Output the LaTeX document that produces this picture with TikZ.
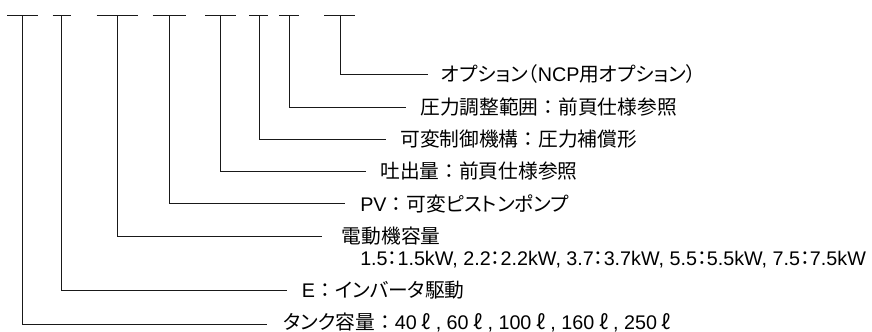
\documentclass[tikz,border=0pt]{standalone}
\usepackage{fontspec}
\setmainfont{Liberation Sans}
\newfontfamily\jpp[RawFeature=+palt]{Noto Sans CJK JP}
\newfontfamily\jpf{Noto Sans CJK JP}
\newcommand\jcolon{{\jpf ：}}
\newcommand\hcolon{{\jpp ：}}
\newcommand\lit{\hspace{0.25em}{\jpf ℓ}\hspace{0.25em}}
\begin{document}
\begin{tikzpicture}[x=0.75pt,y=-0.75pt,
  rule/.style={draw=black!90,line width=0.7pt},
  lbl/.style={anchor=west,inner sep=0pt,font=\fontsize{14.8pt}{17pt}\selectfont}]
\useasboundingbox (0,0) rectangle (872,332);
% top bars: left end, stem, right end
\coordinate (b1l) at (7.3,15);   \coordinate (b1) at (22.7,15);  \coordinate (b1r) at (38.3,15);
\coordinate (b2l) at (52.7,15);  \coordinate (b2) at (61.7,15);  \coordinate (b2r) at (71,15);
\coordinate (b3l) at (96.7,15);  \coordinate (b3) at (117.3,15); \coordinate (b3r) at (137.7,15);
\coordinate (b4l) at (152.7,15); \coordinate (b4) at (169.3,15); \coordinate (b4r) at (185.7,15);
\coordinate (b5l) at (205,15);   \coordinate (b5) at (220.3,15); \coordinate (b5r) at (236,15);
\coordinate (b6l) at (249.3,15); \coordinate (b6) at (259,15);   \coordinate (b6r) at (268.3,15);
\coordinate (b7l) at (279.3,15); \coordinate (b7) at (289.3,15); \coordinate (b7r) at (299,15);
\coordinate (b8l) at (324,15);   \coordinate (b8) at (340,15);   \coordinate (b8r) at (355,15);
% leader ends
\coordinate (e8) at (428,74.5);
\coordinate (e7) at (406,107);
\coordinate (e6) at (386,139);
\coordinate (e5) at (366,171.5);
\coordinate (e4) at (345,203.5);
\coordinate (e3) at (322,236);
\coordinate (e2) at (287,290);
\coordinate (e1) at (267,324);
% labels
\node[lbl] (t8) at (441,74.5) {{\jpp オプション}{\jpp （}NCP{\jpp 用オプション）}};
\node[lbl] (t7) at (420,107) {{\jpp 圧力調整範囲}\jcolon{\jpp 前頁仕様参照}};
\node[lbl] (t6) at (400,139) {{\jpp 可変制御機構}\jcolon{\jpp 圧力補償形}};
\node[lbl] (t5) at (380,171.5) {{\jpp 吐出量}\jcolon{\jpp 前頁仕様参照}};
\node[lbl] (t4) at (360,203.5) {PV\jcolon{\jpp 可変ピストンポンプ}};
\node[lbl] (t3) at (341.7,236) {{\jpp 電動機容量}};
\node[lbl] (t3b) at (360,260) {1.5\hcolon 1.5kW, 2.2\hcolon 2.2kW, 3.7\hcolon 3.7kW, 5.5\hcolon 5.5kW, 7.5\hcolon 7.5kW};
\node[lbl] (t2) at (301.7,290) {E\jcolon{\jpp インバータ駆動}};
\node[lbl] (t1) at (283,322.5) {{\jpp タンク容量}\jcolon 40\lit, 60\lit, 100\lit, 160\lit, 250\lit};
% bars
\foreach \i in {1,...,8} {\draw[rule] (b\i l) -- (b\i r);}
% leaders
\foreach \i in {1,...,8} {\draw[rule] (b\i) |- (e\i);}
\end{tikzpicture}
\end{document}
